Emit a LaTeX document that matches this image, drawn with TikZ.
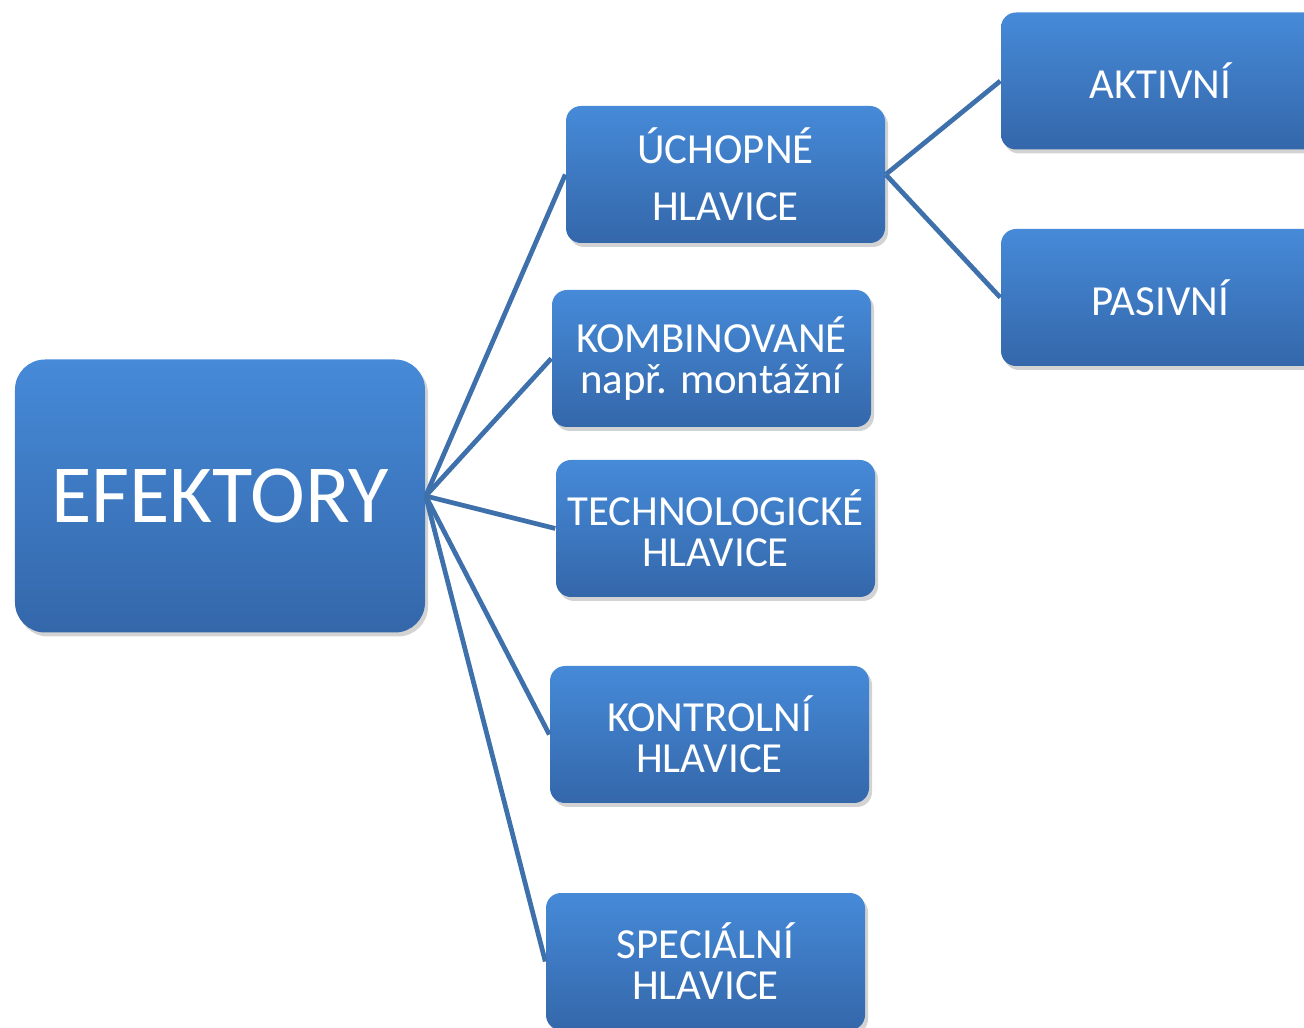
\documentclass[tikz,border=0pt]{standalone}
\usepackage{fontspec}
\setmainfont{Carlito}
\usetikzlibrary{shadows}

\definecolor{boxtop}{RGB}{70,138,216}
\definecolor{boxbot}{RGB}{52,103,170}
\definecolor{linkblue}{RGB}{62,112,172}

\tikzset{
	hlava/.style={draw=none, rounded corners=0.15cm, top color=boxtop, bottom color=boxbot,
		text=white, minimum width=3.19cm, minimum height=1.37cm, align=center, inner sep=0pt,
		font=\fontsize{12.2}{11.7}\selectfont,
		drop shadow={opacity=0.35, shadow xshift=0.03cm, shadow yshift=-0.04cm}},
	spoj/.style={draw=linkblue, line width=1.35pt}
}

\begin{document}
\begin{tikzpicture}

		\useasboundingbox (0,0) rectangle (13.04,10.27);
		\clip (0,0) rectangle (13.04,10.27);

		% hlavni blok
		\node[hlava, rounded corners=0.3cm, minimum width=4.10cm, minimum height=2.73cm,
			font=\fontsize{23.5}{28}\selectfont] (efe) at (2.20,5.31) {EFEKTORY};

		% druhy sloupec
		\node[hlava, font=\fontsize{12.2}{16.2}\selectfont] (uch) at (7.255,8.525) {ÚCHOPNÉ\\HLAVICE};
		\node[hlava] (kom) at (7.115,6.685) {KOMBINOVANÉ\\např. montážní};
		\node[hlava] (tech) at (7.155,4.985) {TECHNOLOGICKÉ\\HLAVICE};
		\node[hlava] (kon) at (7.095,2.925) {KONTROLNÍ\\HLAVICE};
		\node[hlava] (spe) at (7.055,0.655) {SPECIÁLNÍ\\HLAVICE};

		% treti sloupec
		\node[hlava] (akt) at (11.605,9.46) {AKTIVNÍ};
		\node[hlava] (pas) at (11.605,7.295) {PASIVNÍ};

		\foreach \cil in {uch, kom, tech, kon, spe}
			\draw[spoj] (efe.east) -- (\cil.west);

		\draw[spoj] (uch.east) -- (akt.west);
		\draw[spoj] (uch.east) -- (pas.west);

	\end{tikzpicture}
\end{document}
